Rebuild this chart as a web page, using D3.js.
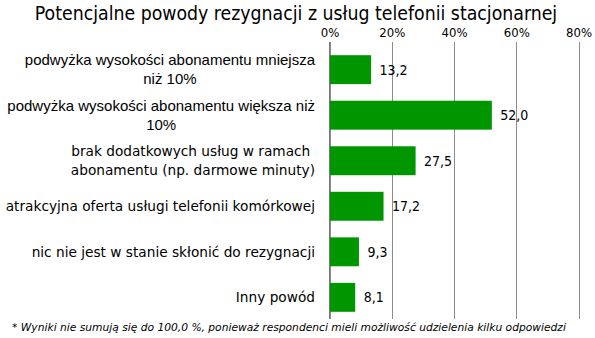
<!DOCTYPE html>
<html>
<head>
<meta charset="utf-8">
<script src="https://cdn.jsdelivr.net/npm/d3@7"></script>
<style>
  html, body { margin: 0; padding: 0; background: #fff; }
  svg { display: block; }
</style>
</head>
<body>
<svg id="chart" width="595" height="338"></svg>
<script>
// Survey: reasons for cancelling a landline subscription (% of respondents)
const title = "Potencjalne powody rezygnacji z usług telefonii stacjonarnej";
const categories = [
  ["podwyżka wysokości abonamentu mniejsza", "niż 10%"],
  ["podwyżka wysokości abonamentu większa niż", "10%"],
  ["brak dodatkowych usług w ramach ", "abonamentu (np. darmowe minuty)"],
  ["atrakcyjna oferta usługi telefonii komórkowej"],
  ["nic nie jest w stanie skłonić do rezygnacji"],
  ["Inny powód"]
];
const values = [13.2, 52.0, 27.5, 17.2, 9.3, 8.1];
const tickValues = [0, 20, 40, 60, 80];
const footnote = "* Wyniki nie sumują się do 100,0 %, ponieważ respondenci mieli możliwość udzielenia kilku odpowiedzi";

const svg = d3.select("#chart");
const condensed = "'DejaVu Sans Condensed', 'DejaVu Sans', sans-serif";
const green = "#009600";

const x = d3.scaleLinear().domain([0, 80]).range([329.5, 578.5]);
const keys = categories.map((d, i) => i);
const y = d3.scaleBand().domain(keys).range([47, 320])
  .paddingInner(0.365).paddingOuter(0.18);

const gridTop = 42, gridBottom = 318.5;

// title
svg.append("text")
  .attr("x", 296).attr("y", 20)
  .attr("text-anchor", "middle")
  .style("font-family", condensed)
  .style("font-size", "19.3px")
  .attr("fill", "#000")
  .text(title);

// top axis with gridlines
const axis = d3.axisTop(x)
  .tickValues(tickValues)
  .tickFormat(d => d + "%")
  .tickSize(-(gridBottom - gridTop))
  .tickPadding(5);

const gAxis = svg.append("g")
  .attr("transform", `translate(0,${gridTop})`)
  .call(axis);
gAxis.select(".domain").remove();
gAxis.selectAll(".tick line")
  .attr("stroke", "#8c8c8c")
  .attr("stroke-width", 1)
  .attr("shape-rendering", "crispEdges");
gAxis.selectAll(".tick text")
  .style("font-family", condensed)
  .style("font-size", "13px")
  .attr("fill", "#000");

// zero line
svg.append("line")
  .attr("x1", x(0)).attr("x2", x(0))
  .attr("y1", gridTop).attr("y2", gridBottom)
  .attr("stroke", "#777")
  .attr("shape-rendering", "crispEdges");

// bars
svg.append("g").selectAll("rect")
  .data(values)
  .join("rect")
  .attr("x", x(0) + 0.5)
  .attr("y", (d, i) => y(i))
  .attr("width", d => x(d) - x(0))
  .attr("height", y.bandwidth())
  .attr("fill", green);

// value labels
svg.append("g").selectAll("text")
  .data(values)
  .join("text")
  .attr("x", d => x(d) + 9)
  .attr("y", (d, i) => y(i) + y.bandwidth() / 2)
  .attr("dy", "0.36em")
  .style("font-family", condensed)
  .style("font-size", "14px")
  .attr("fill", "#000")
  .text(d => d.toFixed(1).replace(".", ","));

// category labels: lines centred on each other, block right-aligned
const labelRight = 315;
const lineH = 19;
categories.forEach((lines, i) => {
  const sansArial = i < 2;
  const g = svg.append("g");
  const texts = lines.map((ln, k) => g.append("text")
    .attr("text-anchor", "middle")
    .attr("xml:space", "preserve")
    .style("font-family", sansArial ? "'Liberation Sans', Arial, sans-serif" : "'DejaVu Sans', sans-serif")
    .style("font-size", sansArial ? "15px" : "13.7px")
    .attr("fill", "#000")
    .text(ln));
  const widths = texts.map(t => t.node().getComputedTextLength());
  const maxW = d3.max(widths);
  const cx = labelRight - maxW / 2;
  const cy = y(i) + y.bandwidth() / 2;
  const startY = cy - (lines.length - 1) * lineH / 2;
  texts.forEach((t, k) => t.attr("x", cx).attr("y", startY + k * lineH).attr("dy", "0.35em"));
});

// footnote
svg.append("text")
  .attr("x", 289).attr("y", 331)
  .attr("text-anchor", "middle")
  .style("font-family", "'DejaVu Sans', sans-serif")
  .style("font-style", "italic")
  .style("font-size", "10.7px")
  .attr("fill", "#000")
  .text(footnote);
</script>
</body>
</html>
